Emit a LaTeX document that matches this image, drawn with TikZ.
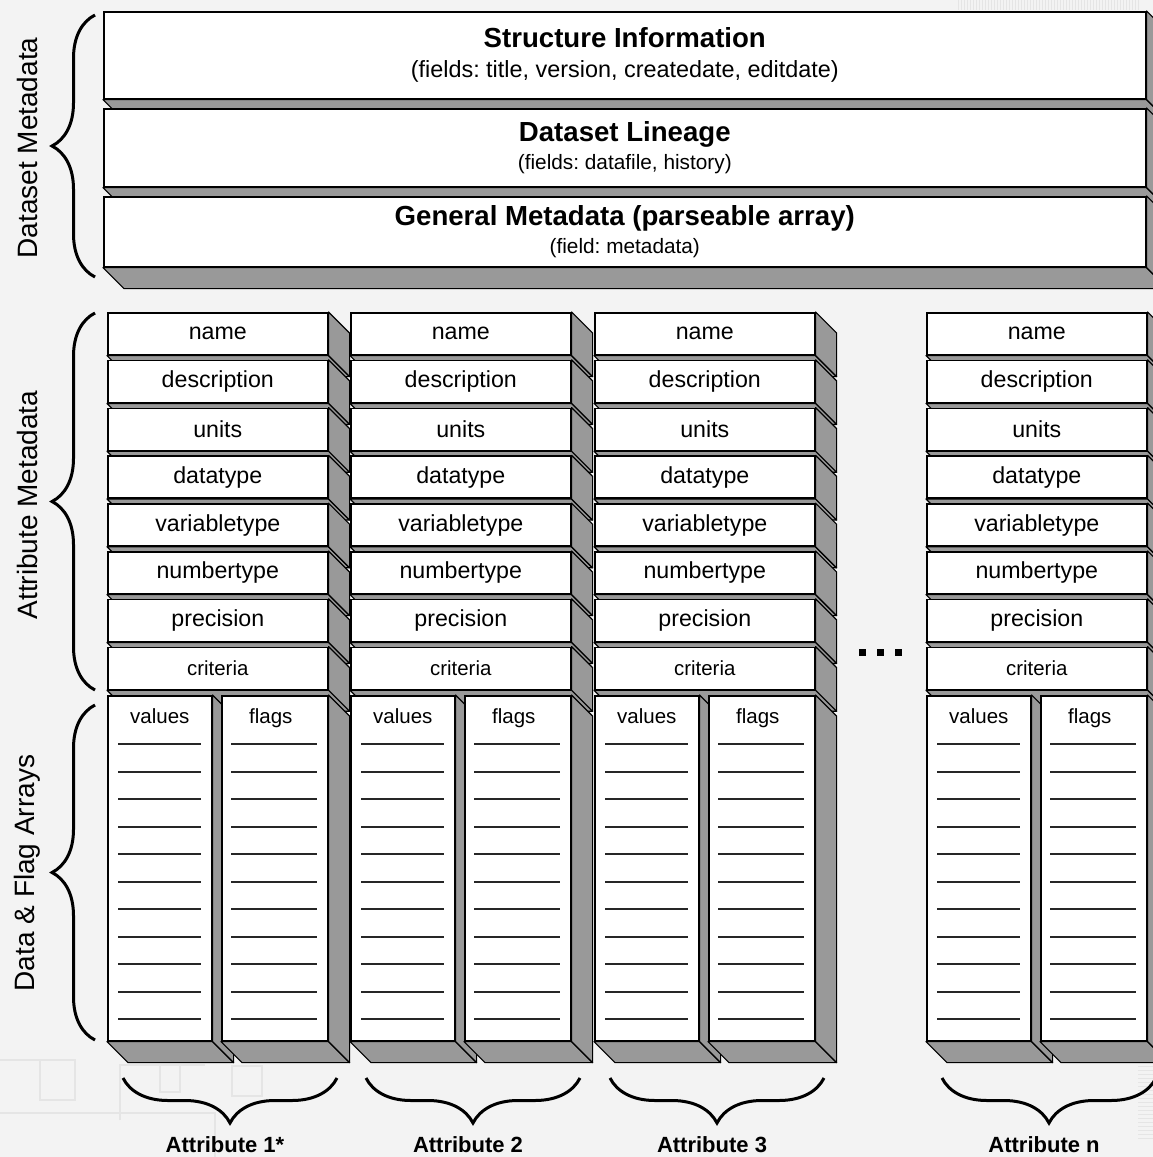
\documentclass[tikz,border=0pt]{standalone}
\usepackage{fontspec}
\setmainfont{Liberation Sans}
\usetikzlibrary{decorations.pathreplacing,positioning}

\definecolor{sidegray}{RGB}{153,153,153}
\definecolor{bggray}{RGB}{243,243,243}
\definecolor{tracegray}{RGB}{229,229,229}

\newcommand{\dep}{21}
% gray bottom and right faces of a 3d slab
\newcommand{\slabsides}[1]{%
  \path[side] (#1.south west) -- ++(\dep,\dep) -- ([shift={(\dep,\dep)}]#1.south east) -- (#1.south east) -- cycle;
  \path[side] (#1.north east) -- ++(\dep,\dep) -- ([shift={(\dep,\dep)}]#1.south east) -- (#1.south east) -- cycle;
}

\begin{document}
\frenchspacing
\begin{tikzpicture}[x=1pt,y=-1pt,
  front/.style={draw=black, line width=1.6pt, fill=white, inner sep=0pt, align=center},
  side/.style={draw=black, line width=1.2pt, fill=sidegray, line join=round},
  headtext/.style={font=\bfseries\fontsize{27.6}{32}\selectfont},
  celltext/.style={font=\fontsize{20.5}{24}\selectfont, anchor=base},
  rule/.style={line width=2pt, black!85},
  trace/.style={tracegray, line width=1.2pt},
  bracel/.style={decorate, decoration={brace, amplitude=43pt}, line width=3pt},
  braceb/.style={decorate, decoration={brace, amplitude=45pt}, line width=3pt},
  grouptext/.style={font=\fontsize{28}{30}\selectfont, rotate=90},
  attrtext/.style={font=\bfseries\fontsize{22}{24}\selectfont}]

  \clip (0,0) rectangle (1153,1157);
  \fill[bggray] (0,0) rectangle (1153,1157);

  % faint board traces in the background
  \foreach \hx in {958,961,...,1140}
    \draw[trace, line width=0.8pt] (\hx,0) -- (\hx,10);
  \draw[trace] (0,1060) -- (75,1060) (0,1113) -- (215,1113) -- (215,1157);
  \draw[trace] (40,1060) rectangle (75,1100) (120,1120) -- (120,1065) -- (205,1065);
  \draw[trace] (160,1065) rectangle (180,1092) (232,1066) rectangle (262,1096);
  \foreach \hy in {1062,1066,...,1138}
    \draw[trace, line width=0.8pt] (1138,\hy) -- (1153,\hy);

  % dataset metadata
  \node[front, headtext, minimum width=1042pt, minimum height=87pt, anchor=north west] (structure) at (103,11)
    {Structure Information\\[-2pt]{\mdseries\fontsize{23.4}{26}\selectfont (fields: title, version, createdate, editdate)}};
  \slabsides{structure}
  \node[front, headtext, minimum width=1042pt, minimum height=78pt, anchor=north west] (lineage) at (103,108)
    {Dataset Lineage\\[-4pt]{\mdseries\fontsize{20.8}{24}\selectfont (fields: datafile, history)}};
  \slabsides{lineage}
  \node[front, headtext, minimum width=1042pt, minimum height=70pt, anchor=north west] (general) at (103,196)
    {General Metadata (parseable array)\\[-4pt]{\mdseries\fontsize{20.8}{24}\selectfont (field: metadata)}};
  \slabsides{general}

  % attribute columns
  \foreach \cx/\an in {107/1,350/2,594/3,926/n}{
    \foreach \fld/\fs [count=\i from 0] in {name/23.2,description/23.2,units/23.2,datatype/23.2,
        variabletype/23.2,numbertype/23.2,precision/23.2,criteria/20.4}{
      \node[front, font=\fontsize{\fs}{26}\selectfont, minimum width=220pt, minimum height=42pt,
        anchor=north west] (a\an-\fld) at (\cx,312+47.8*\i) {\fld};
      \slabsides{a\an-\fld}
    }
    \node[front, minimum width=104pt, minimum height=345pt, anchor=north west] (v\an) at (\cx,695) {};
    \slabsides{v\an}
    \node[front, minimum width=106pt, minimum height=345pt, anchor=north west] (f\an) at (\cx+114,695) {};
    \slabsides{f\an}
    \node[celltext] (v\an-t) at ([shift={(0,28)}]v\an.north) {values};
    \node[celltext] (f\an-t) at ([shift={(-4,28)}]f\an.north) {flags};
    \foreach \k in {0,...,10}{
      \draw[rule] (\cx+11,{744+round(27.5*\k)}) -- ++(83,0);
      \draw[rule] (\cx+124,{744+round(27.5*\k)}) -- ++(86,0);
    }
  }

  % more columns
  \foreach \dx in {859,877,895}
    \fill (\dx,649) rectangle ++(7,7);

  % braces below
  \foreach \cx/\lab in {107/Attribute 1*,350/Attribute 2,594/Attribute 3,926/Attribute n}{
    \draw[braceb] (\cx+230,1078) -- (\cx+16,1078);
    \node[attrtext] at (\cx+118,1145) {\lab};
  }

  % braces left
  \draw[bracel] (95,277) -- (95,15);
  \draw[bracel] (95,690) -- (95,313);
  \draw[bracel] (95,1040) -- (95,705);
  \node[grouptext] (dsmeta) at (27,148) {Dataset Metadata};
  \node[grouptext] (atmeta) at (27,505) {Attribute Metadata};
  \node[grouptext] (dfarr) at (27,873) {Data \& Flag Arrays};

\end{tikzpicture}
\end{document}
